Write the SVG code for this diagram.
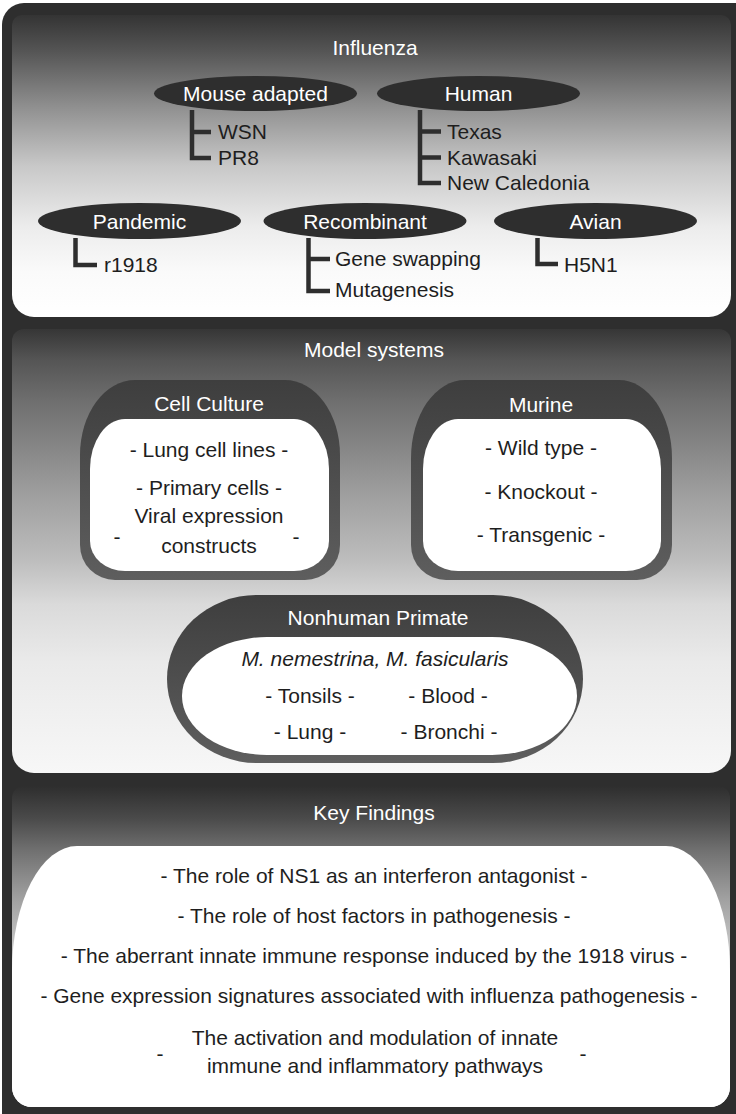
<svg xmlns="http://www.w3.org/2000/svg" width="736" height="1114" viewBox="0 0 736 1114">
<defs>
<linearGradient id="g1" x1="0" y1="0" x2="0" y2="1">
<stop offset="0" stop-color="#343434"/><stop offset="0.12" stop-color="#555"/><stop offset="0.3" stop-color="#8e8e8e"/><stop offset="0.5" stop-color="#c8c8c8"/><stop offset="0.7" stop-color="#ececec"/><stop offset="0.85" stop-color="#fafafa"/><stop offset="1" stop-color="#fff"/>
</linearGradient>
<linearGradient id="g2" x1="0" y1="0" x2="0" y2="1">
<stop offset="0" stop-color="#363636"/><stop offset="0.07" stop-color="#555"/><stop offset="0.16" stop-color="#6e6e6e"/><stop offset="0.38" stop-color="#a0a0a0"/><stop offset="0.52" stop-color="#bdbdbd"/><stop offset="0.62" stop-color="#dadada"/><stop offset="0.75" stop-color="#eaeaea"/><stop offset="1" stop-color="#f7f7f7"/>
</linearGradient>
<linearGradient id="g3" x1="0" y1="0" x2="0" y2="1">
<stop offset="0" stop-color="#2e2e2e"/><stop offset="0.1" stop-color="#4a4a4a"/><stop offset="0.2" stop-color="#707070"/><stop offset="0.35" stop-color="#a0a0a0"/><stop offset="0.54" stop-color="#d0d0d0"/><stop offset="0.82" stop-color="#eee"/><stop offset="1" stop-color="#f5f5f5"/>
</linearGradient>
<linearGradient id="gb" x1="0" y1="0" x2="0" y2="1">
<stop offset="0" stop-color="#3e3e3e"/><stop offset="1" stop-color="#5e5e5e"/>
</linearGradient>
</defs>
<style>
text{font-family:"Liberation Sans",Arial,Helvetica,sans-serif;font-size:21px;text-anchor:middle;fill:#1e1e1e}
.w{fill:#fff}
.l{text-anchor:start}
.it{font-style:italic}
.oval{fill:#2e2e2e}
.outer{fill:url(#gb)}
.inner{fill:#fff}
.conn path{fill:none;stroke:#2e2e2e;stroke-width:4.5;stroke-linejoin:miter;stroke-linecap:butt}
</style>
<rect x="2" y="3" width="760" height="1140" rx="22" fill="#2e2e2e"/>

<g id="panel-influenza">
<path d="M22,15 H721 A10,10 0 0 1 731,25 V295 A22,22 0 0 1 709,317 H34 A22,22 0 0 1 12,295 V25 A10,10 0 0 1 22,15 Z" fill="url(#g1)"/>
<text class="w" x="375" y="55">Influenza</text>
</g>

<g id="node-mouse-adapted">
<ellipse class="oval" cx="255.5" cy="93.5" rx="101.5" ry="17.5"/>
<text class="w" x="255.5" y="101">Mouse adapted</text>
<text class="l" x="218" y="139">WSN</text>
<text class="l" x="218" y="165">PR8</text>
</g>
<g id="node-human">
<ellipse class="oval" cx="478.5" cy="93.5" rx="101.5" ry="17.5"/>
<text class="w" x="478.5" y="101">Human</text>
<text class="l" x="447" y="139">Texas</text>
<text class="l" x="447" y="165">Kawasaki</text>
<text class="l" x="447" y="190">New Caledonia</text>
</g>
<g id="node-pandemic">
<ellipse class="oval" cx="139.5" cy="221" rx="101.5" ry="18"/>
<text class="w" x="139.5" y="229">Pandemic</text>
<text class="l" x="104" y="272">r1918</text>
</g>
<g id="node-recombinant">
<ellipse class="oval" cx="365" cy="221" rx="101.5" ry="18"/>
<text class="w" x="365" y="229">Recombinant</text>
<text class="l" x="335" y="266">Gene swapping</text>
<text class="l" x="335" y="297">Mutagenesis</text>
</g>
<g id="node-avian">
<ellipse class="oval" cx="595.5" cy="221" rx="101.5" ry="18"/>
<text class="w" x="595.5" y="229">Avian</text>
<text class="l" x="564" y="272">H5N1</text>
</g>

<g class="conn" id="connectors">
<path d="M192,110 V158 H211 M192,132 H211"/>
<path d="M420,110 V183 H441 M420,131.5 H441 M420,157.5 H441"/>
<path d="M75.5,238 V265 H97"/>
<path d="M308.5,238 V291 H330 M308.5,259 H330"/>
<path d="M537.5,238 V264 H558"/>
</g>

<g id="panel-model-systems">
<path d="M24,329 H719 A12,12 0 0 1 731,341 V751 A22,22 0 0 1 709,773 H34 A22,22 0 0 1 12,751 V341 A12,12 0 0 1 24,329 Z" fill="url(#g2)"/>
<text class="w" x="374" y="357">Model systems</text>
</g>

<g id="node-cell-culture">
<path class="outer" d="M135,380 H285 A55,75 0 0 1 340,455 V545 A35,35 0 0 1 305,580 H115 A35,35 0 0 1 80,545 V455 A55,75 0 0 1 135,380 Z"/>
<path class="inner" d="M125,419 H294 A35,50 0 0 1 329,469 V541 A35,30 0 0 1 294,571 H125 A35,30 0 0 1 90,541 V469 A35,50 0 0 1 125,419 Z"/>
<text class="w" x="209" y="411">Cell Culture</text>
<text x="209" y="457">- Lung cell lines -</text>
<text x="209" y="495">- Primary cells -</text>
<text x="209" y="523">Viral expression</text>
<text x="209" y="553">constructs</text>
<text x="117" y="544">-</text>
<text x="296" y="544">-</text>
</g>

<g id="node-murine">
<path class="outer" d="M465,380 H619 A53,78 0 0 1 672,458 V545 A35,35 0 0 1 637,580 H446 A35,35 0 0 1 411,545 V458 A54,78 0 0 1 465,380 Z"/>
<path class="inner" d="M458,419 H626 A35,50 0 0 1 661,469 V541 A35,30 0 0 1 626,571 H458 A35,30 0 0 1 423,541 V469 A35,50 0 0 1 458,419 Z"/>
<text class="w" x="541" y="412">Murine</text>
<text x="541" y="455">- Wild type -</text>
<text x="541" y="499">- Knockout -</text>
<text x="541" y="542">- Transgenic -</text>
</g>

<g id="node-nonhuman-primate">
<rect class="outer" x="167" y="595" width="416" height="168" rx="90" ry="84"/>
<rect class="inner" x="182" y="637" width="395" height="118" rx="85" ry="59"/>
<text class="w" x="378" y="625">Nonhuman Primate</text>
<text class="it" x="375" y="666">M. nemestrina, M. fasicularis</text>
<text x="310" y="703">- Tonsils -</text>
<text x="448" y="703">- Blood -</text>
<text x="310" y="739">- Lung -</text>
<text x="449" y="739">- Bronchi -</text>
</g>

<g id="panel-key-findings">
<path d="M24,786 H718 A12,12 0 0 1 730,798 V1087 A20,20 0 0 1 710,1107 H32 A20,20 0 0 1 12,1087 V798 A12,12 0 0 1 24,786 Z" fill="url(#g3)"/>
<path d="M77,846 H666 A64,125 0 0 1 730,971 V1087 A20,20 0 0 1 710,1107 H32 A20,20 0 0 1 12,1087 V971 A65,125 0 0 1 77,846 Z" fill="#fff"/>
<text class="w" x="374" y="820">Key Findings</text>
<text x="374" y="883">- The role of NS1 as an interferon antagonist -</text>
<text x="374" y="923">- The role of host factors in pathogenesis -</text>
<text x="374" y="963">- The aberrant innate immune response induced by the 1918 virus -</text>
<text x="369" y="1003">- Gene expression signatures associated with influenza pathogenesis -</text>
<text x="375" y="1045">The activation and modulation of innate</text>
<text x="375" y="1073">immune and inflammatory pathways</text>
<text x="160" y="1061">-</text>
<text x="583" y="1061">-</text>
</g>
</svg>
